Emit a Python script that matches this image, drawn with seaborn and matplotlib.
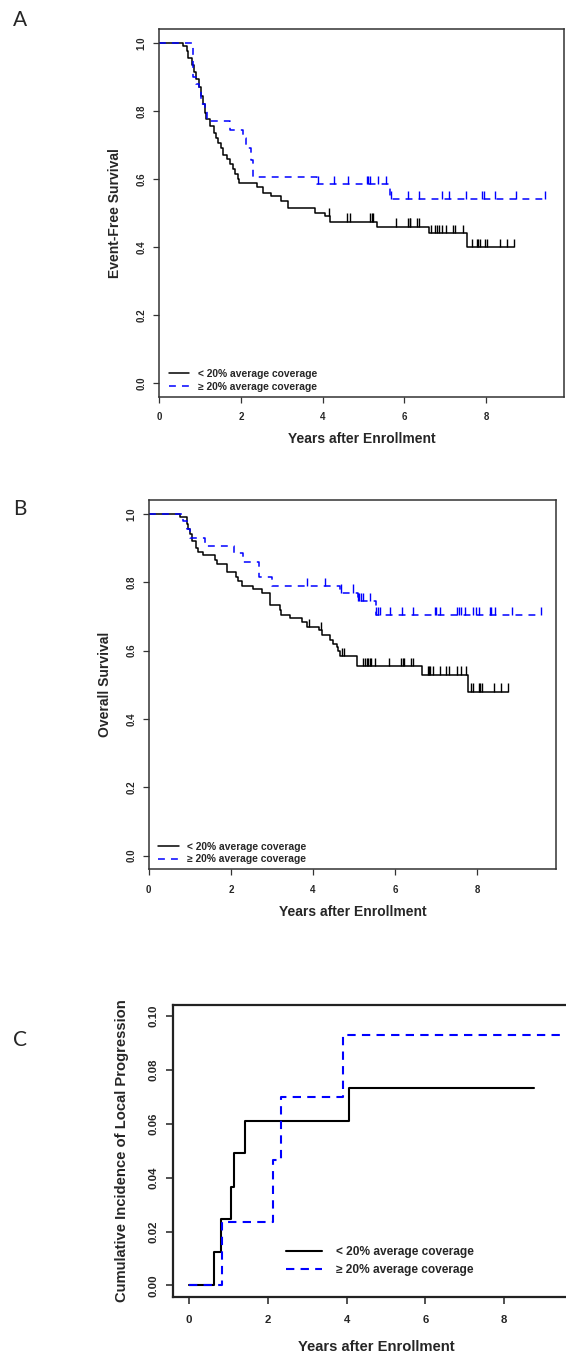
import numpy as np
import seaborn as sns
import matplotlib.pyplot as plt
from matplotlib.ticker import StrMethodFormatter

# Panel A - event-free survival (step times / survival after each step)
efs_lo_t = [0, 0.57, 0.68, 0.70, 0.79, 0.85, 0.91, 0.96, 1.03, 1.07, 1.11, 1.15, 1.23,
            1.35, 1.39, 1.43, 1.51, 1.55, 1.67, 1.73, 1.80, 1.86, 1.92, 1.96, 2.40, 2.53,
            2.73, 2.97, 3.15, 3.82, 4.05, 4.19, 5.34, 6.60, 7.53, 8.68]
efs_lo_s = [1.0, 0.99, 0.975, 0.955, 0.935, 0.915, 0.895, 0.87, 0.845, 0.82, 0.795, 0.775,
            0.755, 0.735, 0.72, 0.705, 0.69, 0.67, 0.66, 0.645, 0.63, 0.615, 0.60, 0.588,
            0.575, 0.56, 0.55, 0.535, 0.515, 0.50, 0.49, 0.475, 0.46, 0.44, 0.40, 0.40]
efs_lo_cens = [4.15, 4.59, 4.67, 5.16, 5.20, 5.24, 5.79, 6.09, 6.13, 6.15, 6.32, 6.37, 6.66,
               6.74, 6.80, 6.86, 6.92, 7.02, 7.18, 7.25, 7.44, 7.65, 7.77, 7.81, 7.85, 7.98,
               8.02, 8.34, 8.52, 8.68]
efs_hi_t = [0, 0.83, 0.91, 0.97, 1.03, 1.11, 1.17, 1.72, 2.04, 2.12, 2.24, 2.30, 3.86, 5.64, 9.45]
efs_hi_s = [1.0, 0.90, 0.88, 0.86, 0.82, 0.80, 0.77, 0.745, 0.72, 0.69, 0.655, 0.605, 0.585,
            0.54, 0.54]
efs_hi_cens = [3.89, 4.27, 4.63, 5.08, 5.12, 5.16, 5.36, 5.54, 5.68, 6.09, 6.37, 6.92, 7.10,
               7.51, 7.91, 7.95, 8.23, 8.74, 9.45]

# Panel B - overall survival
os_lo_t = [0, 0.76, 0.92, 0.96, 1.00, 1.05, 1.15, 1.21, 1.33, 1.61, 1.65, 1.90, 2.12, 2.18,
           2.26, 2.53, 2.75, 2.95, 3.19, 3.23, 3.44, 3.72, 3.84, 4.15, 4.21, 4.41, 4.49, 4.57,
           4.61, 4.65, 5.06, 6.64, 7.76, 8.74]
os_lo_s = [1.0, 0.99, 0.97, 0.955, 0.94, 0.92, 0.90, 0.89, 0.88, 0.865, 0.855, 0.83, 0.815,
           0.805, 0.79, 0.78, 0.77, 0.735, 0.72, 0.705, 0.695, 0.685, 0.67, 0.66, 0.645, 0.63,
           0.62, 0.61, 0.60, 0.585, 0.555, 0.53, 0.48, 0.48]
os_lo_cens = [3.91, 4.19, 4.71, 4.74, 5.22, 5.26, 5.30, 5.34, 5.38, 5.42, 5.50, 5.84, 6.15,
              6.18, 6.20, 6.38, 6.43, 6.80, 6.82, 6.85, 6.92, 7.08, 7.24, 7.31, 7.49, 7.61,
              7.71, 7.85, 7.89, 8.04, 8.07, 8.10, 8.40, 8.58, 8.74]
os_hi_t = [0, 0.84, 0.92, 1.01, 1.37, 2.07, 2.30, 2.69, 2.99, 4.65, 5.10, 5.54, 9.55]
os_hi_s = [1.0, 0.98, 0.955, 0.93, 0.905, 0.885, 0.86, 0.815, 0.79, 0.77, 0.745, 0.705, 0.705]
os_hi_cens = [3.84, 4.29, 4.67, 4.98, 5.10, 5.12, 5.16, 5.22, 5.38, 5.54, 5.58, 5.62, 5.87,
              6.17, 6.43, 6.96, 7.00, 7.08, 7.51, 7.55, 7.59, 7.69, 7.89, 7.97, 8.04, 8.30,
              8.34, 8.42, 8.85, 9.55]

# Panel C - cumulative incidence of local progression
cif_lo_t = [0, 0.64, 0.81, 1.07, 1.15, 1.41, 4.07, 8.75]
cif_lo_v = [0, 0.0125, 0.0245, 0.0365, 0.049, 0.061, 0.0733, 0.0733]
cif_hi_t = [0, 0.85, 2.13, 2.33, 3.92, 9.7]
cif_hi_v = [0, 0.0235, 0.0467, 0.070, 0.093, 0.093]

lab_lo = "< 20% average coverage"
lab_hi = "\u2265 20% average coverage"

sns.set_style("ticks")
plt.rcParams['font.family'] = ['Liberation Sans', 'DejaVu Sans']
plt.rcParams['font.weight'] = 'bold'

fig = plt.figure(figsize=(5.66, 13.57), dpi=100)
W, H = 566, 1357


def px_axes(left, top, right, bottom):
    return fig.add_axes([left / W, 1 - bottom / H, (right - left) / W, (bottom - top) / H])


def censor_marks(ax, t, s, cens, color, h=0.024):
    t = np.asarray(t)
    s = np.asarray(s)
    idx = np.searchsorted(t, cens, side='right') - 1
    ax.vlines(cens, s[idx], s[idx] + h, color=color, lw=1.0)


def km_panel(ax, lo_t, lo_s, lo_c, hi_t, hi_s, hi_c, ylabel):
    sns.lineplot(x=lo_t, y=lo_s, ax=ax, color='black', lw=1.1, drawstyle='steps-post',
                 estimator=None, label=lab_lo)
    sns.lineplot(x=hi_t, y=hi_s, ax=ax, color='#0000ff', lw=1.1, drawstyle='steps-post',
                 linestyle=(0, (4.5, 4)), estimator=None, label=lab_hi)
    censor_marks(ax, lo_t, lo_s, lo_c, 'black')
    censor_marks(ax, hi_t, hi_s, hi_c, '#0000ff')
    ax.set_xlim(0, 9.91)
    ax.set_ylim(-0.04, 1.04)
    ax.set_xticks([0, 2, 4, 6, 8])
    ax.set_yticks([0, 0.2, 0.4, 0.6, 0.8, 1.0])
    ax.yaxis.set_major_formatter(StrMethodFormatter('{x:.1f}'))
    ax.tick_params(axis='both', labelsize=7, length=4, width=0.9, color='#333333')
    ax.tick_params(axis='x', pad=7)
    ax.tick_params(axis='y', labelrotation=90, pad=5)
    for lbl in ax.get_yticklabels():
        lbl.set_va('center')
    for sp in ax.spines.values():
        sp.set_visible(True)
        sp.set_linewidth(1.1)
        sp.set_color('#333333')
    ax.set_xlabel("Years after Enrollment", fontsize=10, fontweight='bold', va='center')
    ax.set_ylabel(ylabel, fontsize=10, fontweight='bold', va='center')
    ax.legend(loc='lower left', bbox_to_anchor=(0.011, 0.0), frameon=False, fontsize=7.4,
              handlelength=2.0, handletextpad=0.8, labelspacing=0.25, borderpad=0.0)


axA = px_axes(159.3, 29.3, 564, 396.7)
km_panel(axA, efs_lo_t, efs_lo_s, efs_lo_cens, efs_hi_t, efs_hi_s, efs_hi_cens,
         "Event-Free Survival")
axA.yaxis.set_label_coords((115 - 159.3) / 404.7, 0.5)
axA.xaxis.set_label_coords(0.5, -(439.4 - 396.7) / 367.4)

axB = px_axes(148.7, 500.3, 556, 869.4)
km_panel(axB, os_lo_t, os_lo_s, os_lo_cens, os_hi_t, os_hi_s, os_hi_cens,
         "Overall Survival")
axB.yaxis.set_label_coords((105 - 148.7) / 407.3, 0.5)
axB.xaxis.set_label_coords(0.5, -(911.7 - 869.4) / 369.1)

axC = px_axes(173.3, 1005, 579, 1296.7)
sns.lineplot(x=cif_lo_t, y=cif_lo_v, ax=axC, color='black', lw=1.5, drawstyle='steps-post',
             estimator=None, label=lab_lo)
sns.lineplot(x=cif_hi_t, y=cif_hi_v, ax=axC, color='#0000ff', lw=1.5, drawstyle='steps-post',
             linestyle=(0, (4, 3)), estimator=None, label=lab_hi)
axC.set_xlim(-0.398, 9.9)
axC.set_ylim(-0.0042, 0.1041)
axC.set_xticks([0, 2, 4, 6, 8])
axC.set_yticks([0, 0.02, 0.04, 0.06, 0.08, 0.10])
axC.yaxis.set_major_formatter(StrMethodFormatter('{x:.2f}'))
axC.tick_params(axis='both', labelsize=8.2, length=5, width=1.1, color='#222222')
axC.tick_params(axis='x', pad=8)
axC.tick_params(axis='y', labelrotation=90, pad=6)
for lbl in axC.get_yticklabels():
    lbl.set_va('center')
for sp in axC.spines.values():
    sp.set_visible(True)
    sp.set_linewidth(1.6)
    sp.set_color('#222222')
axC.set_xlabel("Years after Enrollment", fontsize=10.6, fontweight='bold', va='center')
axC.set_ylabel("Cumulative Incidence of Local Progression", fontsize=10.6,
               fontweight='bold', va='center')
axC.yaxis.set_label_coords((121.7 - 173.3) / 405.8, 0.5)
axC.xaxis.set_label_coords(0.5, -(1347 - 1296.7) / 291.7)
axC.legend(loc='center left', bbox_to_anchor=((280 - 173.3) / 405.8, (1296.7 - 1261) / 291.7),
           frameon=False, fontsize=8.6, handlelength=3.0, handletextpad=1.2,
           labelspacing=0.55, borderpad=0.0)

for letter, y in [("A", 19.5), ("B", 509), ("C", 1040)]:
    fig.text(13 / W, 1 - y / H, letter, fontsize=15, fontweight='normal',
             family=['Lato', 'DejaVu Sans'], va='center', ha='left')

fig.savefig("out.png", dpi=100)
